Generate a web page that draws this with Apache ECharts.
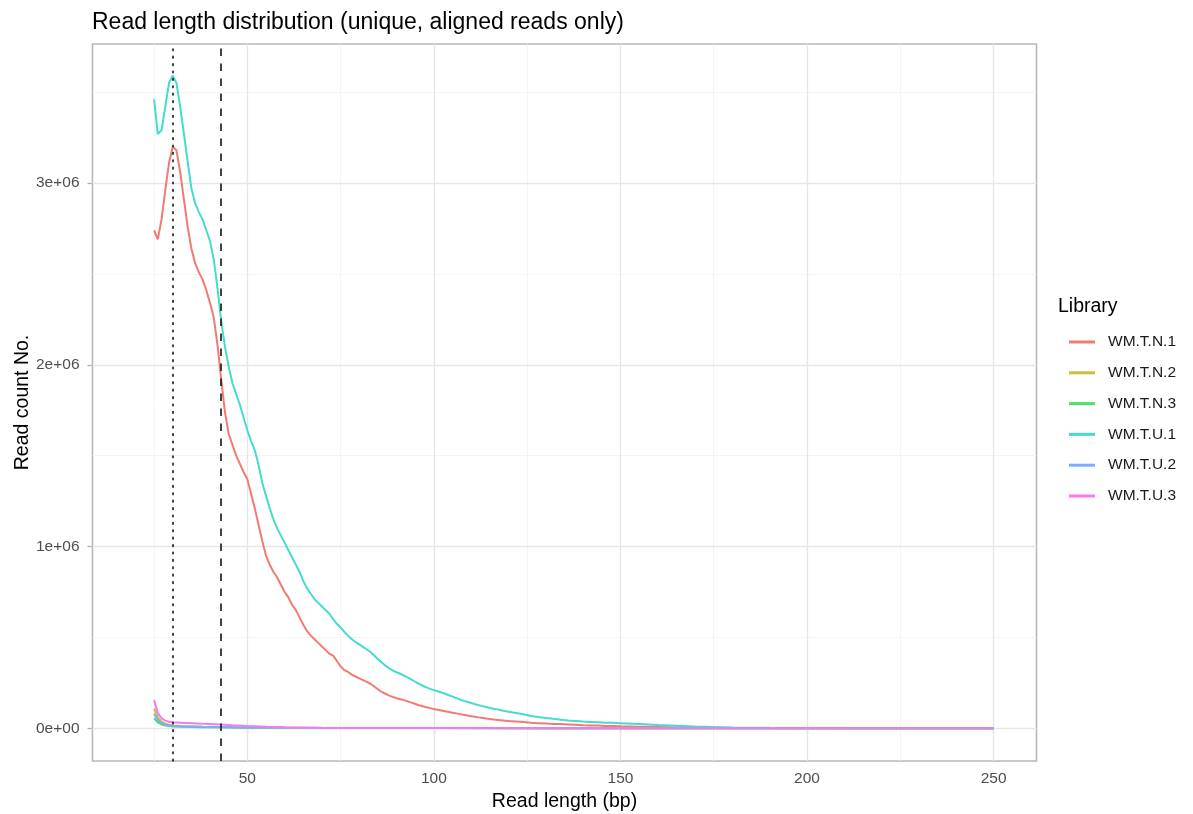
<!DOCTYPE html>
<html><head><meta charset="utf-8">
<script src="https://cdn.jsdelivr.net/npm/echarts@6/dist/echarts.min.js"></script>
<style>html,body{margin:0;padding:0;background:#fff}#c{width:1193px;height:814px}</style>
</head><body><div id="c"></div>
<script>
// Read lengths (bp) for the two large libraries
const readLength = [
25,26,27,28,29,30,31,32,33,34,35,36,37,38,39,40,41,42,43,44,
45,46,47,48,49,50,51,52,53,54,55,56,57,58,59,60,61,62,63,64,
65,66,67,68,69,70,71,72,73,74,75,76,77,78,79,80,81,82,83,84,
85,86,87,88,89,90,91,92,93,94,95,96,97,98,99,100,101,102,103,104,
105,106,107,108,109,110,111,112,113,114,115,116,117,118,119,120,
122,124,126,128,130,132,134,136,138,140,142,144,146,148,150,
155,160,165,170,175,180,185,190,195,200,205,210,215,220,225,230,235,240,245,250];

const wmTN1 = [
2.74e6,2.69e6,2.80e6,2.96e6,3.11e6,3.20e6,3.18e6,3.06e6,2.91e6,2.76e6,
2.64e6,2.56e6,2.51e6,2.47e6,2.41e6,2.34e6,2.26e6,2.11e6,1.92e6,1.74e6,
1.62e6,1.56e6,1.50e6,1.455e6,1.41e6,1.37e6,1.29e6,1.21e6,1.12e6,1.03e6,
0.95e6,0.90e6,0.86e6,0.83e6,0.79e6,0.75e6,0.72e6,0.68e6,0.65e6,0.61e6,
0.57e6,0.535e6,0.51e6,0.49e6,0.47e6,0.45e6,0.43e6,0.41e6,0.40e6,0.37e6,
0.34e6,0.32e6,0.31e6,0.295e6,0.285e6,0.275e6,0.265e6,0.255e6,0.245e6,0.23e6,
0.215e6,0.20e6,0.19e6,0.18e6,0.172e6,0.165e6,0.16e6,0.155e6,0.148e6,0.141e6,
0.134e6,0.127e6,0.121e6,0.116e6,0.111e6,0.106e6,0.102e6,0.098e6,0.094e6,0.090e6,
0.086e6,0.082e6,0.078e6,0.074e6,0.070e6,0.066e6,0.063e6,0.060e6,0.057e6,0.054e6,
0.051e6,0.048e6,0.046e6,0.044e6,0.042e6,0.040e6,
0.037e6,0.034e6,0.030e6,0.028e6,0.026e6,0.024e6,0.023e6,0.021e6,0.019e6,0.017e6,0.016e6,0.015e6,0.013e6,0.012e6,0.011e6,
9000,7000,5000,4000,3000,2000,1500,1000,800,600,500,400,300,300,200,200,100,100,100,100];

const wmTU1 = [
3.46e6,3.27e6,3.29e6,3.42e6,3.55e6,3.59e6,3.55e6,3.42e6,3.27e6,3.12e6,
2.97e6,2.89e6,2.84e6,2.80e6,2.74e6,2.68e6,2.58e6,2.42e6,2.24e6,2.10e6,
1.99e6,1.90e6,1.84e6,1.78e6,1.71e6,1.64e6,1.58e6,1.53e6,1.45e6,1.35e6,
1.28e6,1.21e6,1.15e6,1.10e6,1.06e6,1.02e6,0.98e6,0.94e6,0.90e6,0.86e6,
0.81e6,0.77e6,0.74e6,0.71e6,0.69e6,0.67e6,0.65e6,0.63e6,0.60e6,0.575e6,
0.555e6,0.53e6,0.51e6,0.49e6,0.475e6,0.462e6,0.448e6,0.435e6,0.42e6,0.40e6,
0.38e6,0.362e6,0.345e6,0.33e6,0.318e6,0.308e6,0.300e6,0.290e6,0.280e6,0.268e6,
0.256e6,0.245e6,0.234e6,0.225e6,0.217e6,0.210e6,0.204e6,0.197e6,0.190e6,0.182e6,
0.174e6,0.166e6,0.158e6,0.151e6,0.145e6,0.139e6,0.133e6,0.127e6,0.122e6,0.117e6,
0.112e6,0.108e6,0.104e6,0.099e6,0.095e6,0.091e6,
0.084e6,0.077e6,0.068e6,0.062e6,0.057e6,0.052e6,0.047e6,0.043e6,0.040e6,0.037e6,0.035e6,0.033e6,0.031e6,0.030e6,0.028e6,
23000,18000,14000,10000,7000,5000,3500,2500,1800,1200,900,700,500,400,300,300,200,200,100,100];

// Read lengths (bp) for the four small libraries
const readLengthLow = [25,26,27,28,29,30,32,35,38,43,46,50,55,60,70,80,100,130,170,210,250];
const wmTN2 = [110000,60000,36000,25000,19000,16000,13000,11000,9000,7000,6000,5000,4000,3000,2000,1500,1000,500,200,100,100];
const wmTN3 = [55000,32000,21000,15000,12000,10000,8000,7000,6000,5000,4000,3500,3000,2500,2000,1500,1000,500,200,100,100];
const wmTU2 = [80000,45000,28000,20000,16000,13000,11000,9000,8000,7000,6000,5000,4000,3000,2000,1500,1000,500,200,100,100];
const wmTU3 = [155000,85000,55000,42000,36000,33000,31000,28000,25000,21000,17000,13000,9000,6000,3000,2000,1000,500,200,100,100];

const libraries = ['WM.T.N.1','WM.T.N.2','WM.T.N.3','WM.T.U.1','WM.T.U.2','WM.T.U.3'];
const libColors = ['#F27A72','#C9BE3E','#4EE06C','#44DCCB','#80AAFF','#F27CEF'];

const xTickValues = [50,100,150,200,250];
const xMinorValues = [25,75,125,175,225];
const yTickValues = [0,1e6,2e6,3e6];
const yTickLabels = ['0e+00','1e+06','2e+06','3e+06'];
const yMinorValues = [0.5e6,1.5e6,2.5e6,3.5e6];
const dottedLineAt = 30;
const dashedLineAt = 43;

const FONT = 'Liberation Sans, Arial, Helvetica, sans-serif';

function pairs(xs, ys){ return xs.map((x,i)=>[x, ys[i]]); }

const seriesData = [
  pairs(readLength, wmTN1),
  pairs(readLengthLow, wmTN2),
  pairs(readLengthLow, wmTN3),
  pairs(readLength, wmTU1),
  pairs(readLengthLow, wmTU2),
  pairs(readLengthLow, wmTU3)
];

const gridLineSeries = {
  type:'line', data:[], z:1, silent:true,
  markLine:{
    z:1, silent:true, symbol:['none','none'], label:{show:false}, animation:false,
    data:[
      ...xMinorValues.map(v=>({xAxis:v, lineStyle:{color:'#f1f1f1', width:0.8, type:'solid'}})),
      ...yMinorValues.map(v=>({yAxis:v, lineStyle:{color:'#f1f1f1', width:0.8, type:'solid'}})),
      ...xTickValues.map(v=>({xAxis:v, lineStyle:{color:'#e6e6e6', width:1.3, type:'solid'}})),
      ...yTickValues.map(v=>({yAxis:v, lineStyle:{color:'#e6e6e6', width:1.3, type:'solid'}}))
    ]
  }
};

const vlineSeries = {
  type:'line', data:[], z:20, silent:true,
  markLine:{
    z:20, silent:true, symbol:['none','none'], label:{show:false}, animation:false,
    data:[
      {xAxis:dottedLineAt, lineStyle:{color:'#111', width:1.6, type:[1.6,5.8], cap:'round'}},
      {xAxis:dashedLineAt, lineStyle:{color:'#222', width:1.7, type:[7.5,7.5]}}
    ]
  }
};

const option = {
  animation:false,
  backgroundColor:'#ffffff',
  title:{
    text:'Read length distribution (unique, aligned reads only)',
    left:92, top:11, padding:0,
    textStyle:{fontSize:23, fontWeight:'normal', color:'#000', fontFamily:FONT}
  },
  grid:{left:92.5, right:156.5, top:44, bottom:53, show:true, borderColor:'#b8b8b8', borderWidth:1.6, backgroundColor:'#fff', containLabel:false, outerBoundsMode:'none'},
  legend:{
    orient:'vertical', left:1069, top:334, icon:'rect', padding:0,
    itemWidth:26, itemHeight:3, itemGap:14.8,
    textStyle:{fontSize:15.5, color:'#1a1a1a', fontFamily:FONT, lineHeight:16, padding:[0,0,0,8]},
    data:libraries
  },
  graphic:[{
    type:'text', left:1058, top:297,
    style:{text:'Library', font:'19.5px ' + FONT, fill:'#000'}
  }],
  xAxis:{
    type:'value', min:8.5, max:261.5,
    name:'Read length (bp)', nameLocation:'middle', nameGap:31, nameMoveOverlap:false,
    nameTextStyle:{fontSize:19.5, color:'#000', fontFamily:FONT},
    axisLine:{show:false},
    axisTick:{show:true, length:5, lineStyle:{color:'#b3b3b3', width:1.3}, customValues:xTickValues},
    axisLabel:{customValues:xTickValues, fontSize:15.5, color:'#4d4d4d', fontFamily:FONT, margin:10},
    splitLine:{show:false}
  },
  yAxis:{
    type:'value', min:-0.18e6, max:3.765e6,
    name:'Read count No.', nameLocation:'middle', nameGap:60, nameRotate:90, nameMoveOverlap:false,
    nameTextStyle:{fontSize:19.5, color:'#000', fontFamily:FONT},
    axisLine:{show:false},
    axisTick:{show:true, length:5, lineStyle:{color:'#b3b3b3', width:1.3}, customValues:yTickValues},
    axisLabel:{customValues:yTickValues, fontSize:15.5, color:'#4d4d4d', fontFamily:FONT, margin:13,
      formatter:function(v){ const i = yTickValues.indexOf(v); return i>=0 ? yTickLabels[i] : ''; }},
    splitLine:{show:false}
  },
  series:[
    gridLineSeries,
    ...libraries.map((name,i)=>({
      name:name, type:'line', data:seriesData[i], showSymbol:false, symbol:'none',
      z:3+i, color:libColors[i],
      lineStyle:{color:libColors[i], width:2}, itemStyle:{color:libColors[i]}
    })),
    vlineSeries
  ]
};

const chart = echarts.init(document.getElementById('c'), null, {renderer:'canvas'});
chart.setOption(option);
</script>
</body></html>
